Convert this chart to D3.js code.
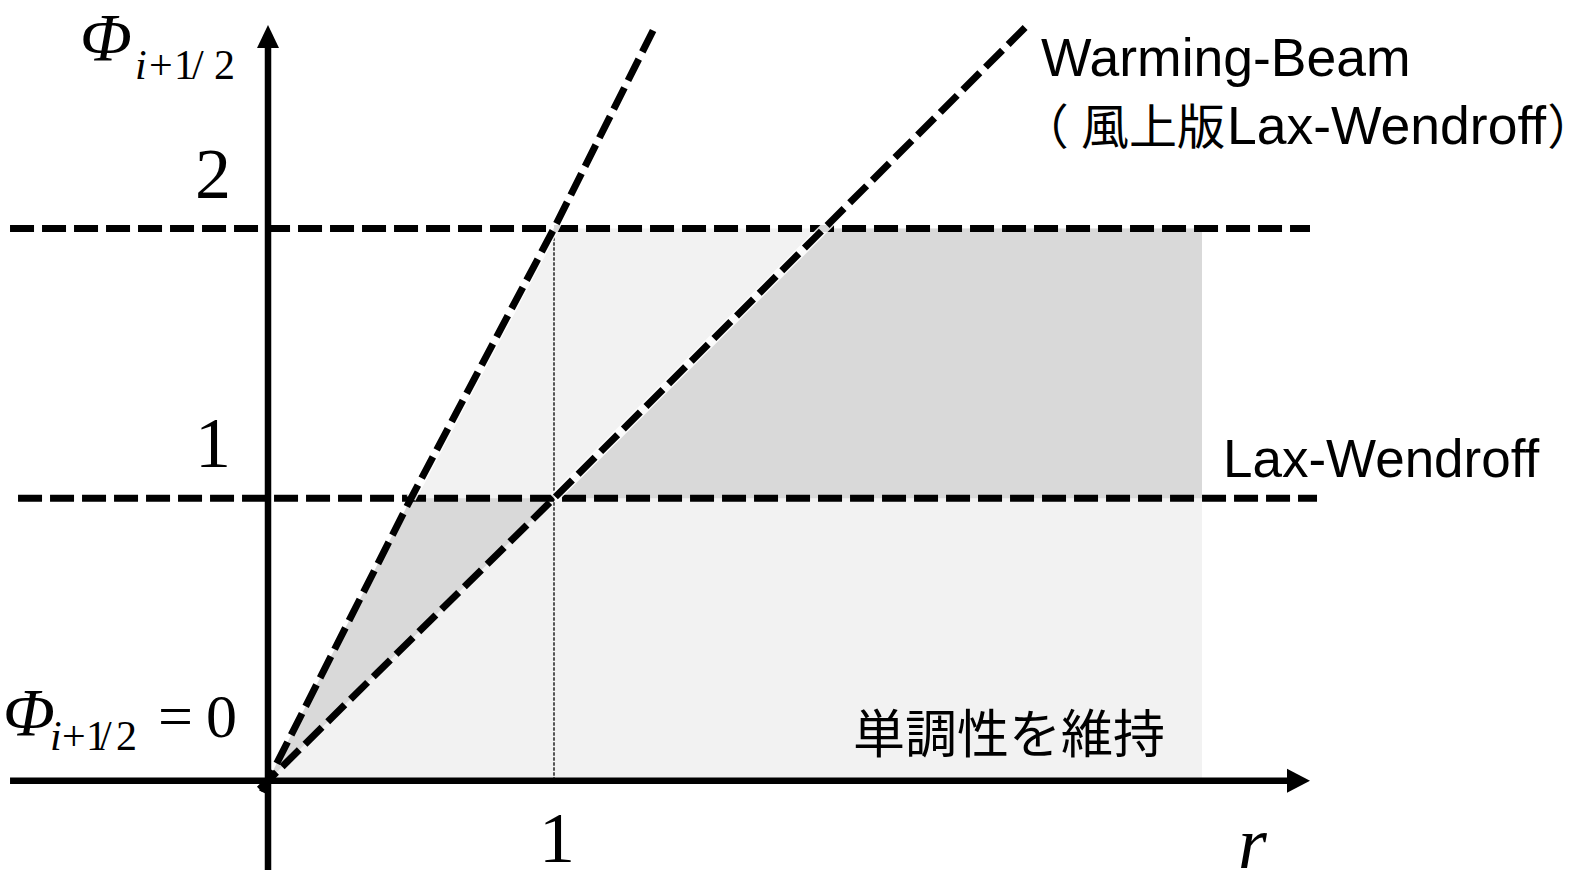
<!DOCTYPE html>
<html>
<head>
<meta charset="utf-8">
<script src="https://cdn.jsdelivr.net/npm/d3@7"></script>
<style>
  html, body { margin: 0; padding: 0; background: #fff; }
  svg { display: block; }
  .palt { font-feature-settings: "palt" 1; }
</style>
</head>
<body>
<svg id="chart" width="1579" height="872"></svg>
<script>
// ---------------- data ----------------
// x: r, y: Phi_{i+1/2}
const xTickValues = [1];
const yTickValues = [1, 2];
const xTickLabels = ["1"];
const yTickLabels = ["1", "2"];

// shaded regions (r, Phi)
const monotoneRegion = [[0, 0], [1, 2], [3.4, 2], [3.4, 0]];          // light grey
const tvdRegionLow = [[0, 0], [0.5, 1], [1, 1]];                       // dark grey
const tvdRegionHigh = [[1, 1], [2, 2], [3.4, 2], [3.4, 1]];            // dark grey

// dashed reference lines (r, Phi)
const lineTwoR = [[-0.02, -0.04], [0.5, 1], [1, 2], [1.38, 2.76]];         // Phi = 2r
const lineWarmingBeam = [[-0.03, -0.03], [1, 1], [2, 2], [2.76, 2.76]];   // Phi = r
const lineLaxWendroff = [[-0.874, 1], [3.826, 1]];                     // Phi = 1
const lineTwo = [[-0.902, 2], [3.8, 2]];                               // Phi = 2
const lineROne = [[1, 0], [1, 2]];                                     // r = 1 (thin)

const xAxisExtent = [-0.902, 3.8];
const yAxisExtent = [-0.316, 2.754];

const labelWarming1 = "Warming-Beam";
const labelWarming2 = ["（", "風上版", "Lax-Wendroff", "）"];
const labelLaxWendroff = "Lax-Wendroff";
const labelMonotone = "単調性を維持";
const phiSubscript = ["i", "+", "1", "/", "2"];

// ---------------- drawing ----------------
const svg = d3.select("#chart");
const x = d3.scaleLinear().domain([0, 1, 2]).range([268, 554, 824]);
const y = d3.scaleLinear().domain([0, 1, 2]).range([780.7, 498.3, 228.5]);
const line = d3.line().x(d => x(d[0])).y(d => y(d[1]));

const serif = "'Liberation Serif', 'Times New Roman', serif";
const sans = "'Liberation Sans', Arial, sans-serif";
const cjk = "'Noto Sans CJK JP', sans-serif";

// regions
svg.append("path").attr("d", line(monotoneRegion) + "Z").attr("fill", "#f2f2f2");
svg.append("path").attr("d", line(tvdRegionLow) + "Z").attr("fill", "#d9d9d9");
svg.append("path").attr("d", line(tvdRegionHigh) + "Z").attr("fill", "#d9d9d9");

// thin dotted r=1
svg.append("path").attr("d", line(lineROne))
  .attr("stroke", "#000").attr("stroke-width", 1.3)
  .attr("stroke-dasharray", "3.5,1.5").attr("fill", "none");

// horizontal dashed lines
[lineLaxWendroff, lineTwo].forEach(l => {
  svg.append("path").attr("d", line(l))
    .attr("stroke", "#000").attr("stroke-width", 7)
    .attr("stroke-dasharray", "24,8").attr("fill", "none");
});

// axes
const axisW = 6.5;
svg.append("line")
  .attr("x1", x(xAxisExtent[0])).attr("x2", x(xAxisExtent[1]) - 20)
  .attr("y1", y(0)).attr("y2", y(0))
  .attr("stroke", "#000").attr("stroke-width", axisW);
svg.append("path")
  .attr("d", `M${x(xAxisExtent[1])},${y(0)} L${x(xAxisExtent[1]) - 23},${y(0) - 12} L${x(xAxisExtent[1]) - 23},${y(0) + 12} Z`)
  .attr("fill", "#000");
svg.append("line")
  .attr("x1", x(0)).attr("x2", x(0))
  .attr("y1", y(yAxisExtent[0])).attr("y2", y(yAxisExtent[1]) + 20)
  .attr("stroke", "#000").attr("stroke-width", axisW);
svg.append("path")
  .attr("d", `M${x(0)},${y(yAxisExtent[1])} L${x(0) - 11},${y(yAxisExtent[1]) + 23} L${x(0) + 11},${y(yAxisExtent[1]) + 23} Z`)
  .attr("fill", "#000");

// diagonal dashed lines with white halo
[lineTwoR, lineWarmingBeam].forEach(l => {
  svg.append("path").attr("d", line(l.filter(d => d[0] >= 0)))
    .attr("stroke", "#fff").attr("stroke-width", 10).attr("stroke-opacity", 0.85)
    .attr("fill", "none");
});
[lineTwoR, lineWarmingBeam].forEach(l => {
  svg.append("path").attr("d", line(l))
    .attr("stroke", "#000").attr("stroke-width", 7)
    .attr("stroke-dasharray", "24,8").attr("fill", "none");
});

// tick labels
yTickValues.forEach((v, i) => {
  svg.append("text").attr("x", 213).attr("y", y(v) - 31)
    .attr("text-anchor", "middle")
    .attr("font-family", serif).attr("font-size", 72)
    .text(yTickLabels[i]);
});
xTickValues.forEach((v, i) => {
  svg.append("text").attr("x", x(v) + 3).attr("y", 862)
    .attr("text-anchor", "middle")
    .attr("font-family", serif).attr("font-size", 72)
    .text(xTickLabels[i]);
});

// r label
svg.append("text").attr("x", 1238).attr("y", 868)
  .attr("font-family", serif).attr("font-style", "italic").attr("font-size", 74)
  .text("r");

// Phi_{i+1/2} labels (one text element each, subscript as tspans)
function phiLabel(g, px, base, subXs, subBase) {
  const t = g.append("text").attr("font-family", serif);
  t.append("tspan").attr("x", px).attr("y", base)
    .attr("font-style", "italic").attr("font-size", 68)
    .text("Φ");
  phiSubscript.forEach((c, k) => {
    t.append("tspan").attr("x", subXs[k]).attr("y", subBase)
      .attr("font-size", 42)
      .attr("font-style", c === "i" ? "italic" : "normal")
      .text(c);
  });
}
phiLabel(svg, 80, 60, [135, 149, 174, 192, 214], 79);
phiLabel(svg, 3, 735, [50, 62, 86, 100, 116], 750);
svg.append("text").attr("x", 158).attr("y", 737)
  .attr("font-family", serif).attr("font-size", 62).text("=");
svg.append("text").attr("x", 206).attr("y", 737)
  .attr("font-family", serif).attr("font-size", 62).text("0");

// annotations
svg.append("text").attr("x", 1041).attr("y", 76)
  .attr("font-family", sans).attr("font-size", 53.5).text(labelWarming1);
const l2x = [1043, 1081, 1227, 1549];
const l2font = [cjk, cjk, sans, cjk];
const l2size = [48, 48, 53.5, 48];
labelWarming2.forEach((s, k) => {
  svg.append("text").attr("class", "palt")
    .attr("x", l2x[k]).attr("y", 144)
    .attr("font-family", l2font[k]).attr("font-size", l2size[k])
    .text(s);
});

svg.append("text").attr("x", 1223).attr("y", 477)
  .attr("font-family", sans).attr("font-size", 53).text(labelLaxWendroff);

svg.append("text").attr("x", 853).attr("y", 753)
  .attr("font-family", cjk).attr("font-size", 52).text(labelMonotone);
</script>
</body>
</html>
